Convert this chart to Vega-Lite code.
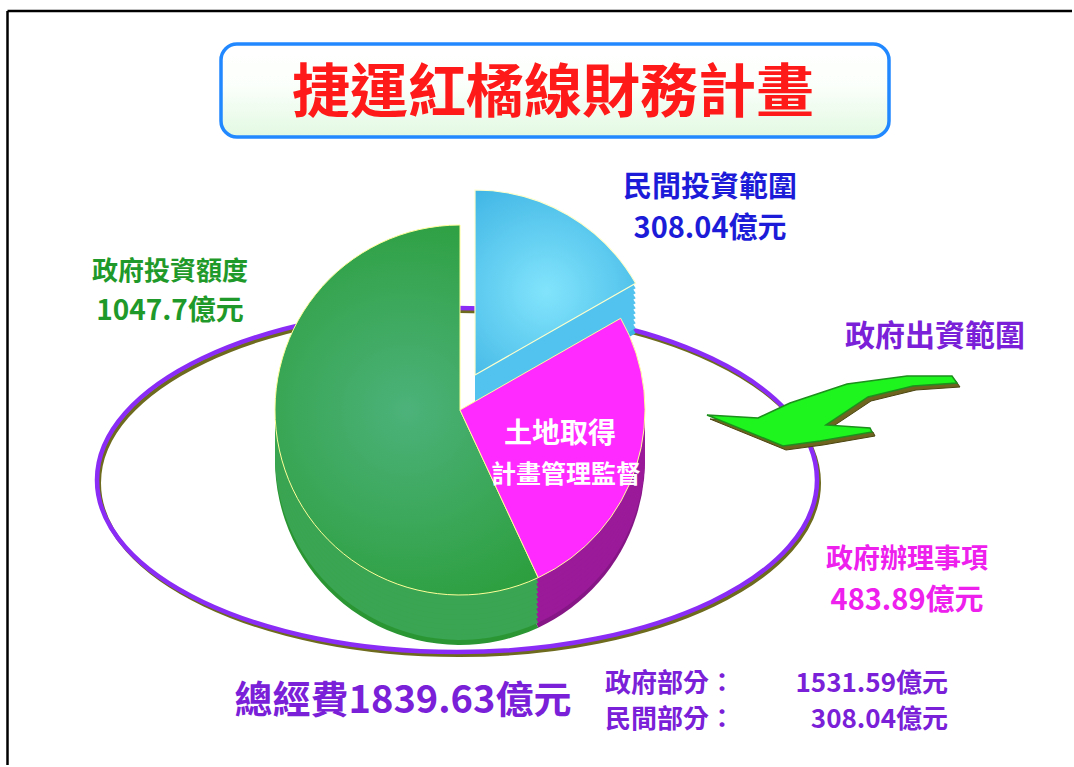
{
  "$schema": "https://vega.github.io/schema/vega-lite/v6.json",
  "width": 1074,
  "height": 767,
  "padding": 0,
  "autosize": {"type": "fit", "contains": "padding"},
  "background": "white",
  "config": {"view": {"stroke": null}, "text": {"font": "Noto Sans CJK TC"}},
  "datasets": {
    "slices": [
      {"key": "blue", "name": "民間投資範圍", "value": 308.04, "ord": 1},
      {"key": "magenta", "name": "政府辦理事項", "value": 483.89, "ord": 2},
      {"key": "green", "name": "政府投資額度", "value": 1047.7, "ord": 3}
    ],
    "notes": [
      {"id": "title", "text": "捷運紅橘線財務計畫"},
      {"id": "arrow", "text": "政府出資範圍"},
      {"id": "inner1", "text": "土地取得"},
      {"id": "inner2", "text": "計畫管理監督"},
      {"id": "total", "text": "總經費1839.63億元"},
      {"id": "gov", "text": "政府部分："},
      {"id": "govv", "text": "1531.59億元"},
      {"id": "pri", "text": "民間部分："},
      {"id": "priv", "text": "308.04億元"}
    ]
  },
  "layer": [
    {
      "data": {"values": [{}]},
      "mark": {"type": "rule", "color": "#000000", "strokeWidth": 2.5},
      "encoding": {
        "x": {"datum": 7.5, "type": "quantitative", "scale": {"domain": [0, 1074], "nice": false, "zero": false}, "axis": null},
        "y": {"datum": 11, "type": "quantitative", "scale": {"domain": [0, 767], "nice": false, "zero": false, "reverse": true}, "axis": null},
        "y2": {"datum": 765}
      }
    },
    {
      "data": {"values": [{}]},
      "mark": {"type": "rule", "color": "#000000", "strokeWidth": 2.5},
      "encoding": {
        "x": {"datum": 7.5, "type": "quantitative", "scale": {"domain": [0, 1074], "nice": false, "zero": false}, "axis": null},
        "x2": {"datum": 1072},
        "y": {"datum": 11, "type": "quantitative", "scale": {"domain": [0, 767], "nice": false, "zero": false, "reverse": true}, "axis": null}
      }
    },
    {
      "data": {"values": [{}]},
      "mark": {
        "type": "rect", "cornerRadius": 16, "stroke": "#2288ff", "strokeWidth": 3.5,
        "fill": {"gradient": "linear", "x1": 0, "y1": 0, "x2": 0, "y2": 1,
          "stops": [{"offset": 0, "color": "#ffffff"}, {"offset": 0.45, "color": "#fbfffb"}, {"offset": 1, "color": "#e2f9e2"}]}
      },
      "encoding": {
        "x": {"datum": 221, "type": "quantitative", "scale": {"domain": [0, 1074], "nice": false, "zero": false}, "axis": null},
        "x2": {"datum": 889},
        "y": {"datum": 44, "type": "quantitative", "scale": {"domain": [0, 767], "nice": false, "zero": false, "reverse": true}, "axis": null},
        "y2": {"datum": 137}
      }
    },
    {
      "data": {"name": "notes"},
      "transform": [{"filter": "datum.id === 'title'"}],
      "mark": {"type": "text", "fontSize": 58, "fontWeight": "bold", "color": "#ff1a1a", "font": "Noto Sans CJK TC"},
      "encoding": {
        "x": {"datum": 553, "type": "quantitative", "scale": {"domain": [0, 1074], "nice": false, "zero": false}, "axis": null},
        "y": {"datum": 95, "type": "quantitative", "scale": {"domain": [0, 767], "nice": false, "zero": false, "reverse": true}, "axis": null},
        "text": {"field": "text"}
      }
    },
    {
      "data": {"values": [{}]},
      "mark": {"type": "point", "shape": "M -1 0 A 1 0.478 0 1 1 1 0 A 1 0.478 0 1 1 -1 0 Z", "size": 518400, "filled": false, "stroke": "#6e6a1e", "strokeWidth": 4, "opacity": 1, "xOffset": 2, "yOffset": 3},
      "encoding": {
        "x": {"datum": 457, "type": "quantitative", "scale": {"domain": [0, 1074], "nice": false, "zero": false}, "axis": null},
        "y": {"datum": 480, "type": "quantitative", "scale": {"domain": [0, 767], "nice": false, "zero": false, "reverse": true}, "axis": null}
      }
    },
    {
      "data": {"values": [{}]},
      "mark": {"type": "point", "shape": "M -1 0 A 1 0.478 0 1 1 1 0 A 1 0.478 0 1 1 -1 0 Z", "size": 518400, "filled": false, "stroke": "#8a2cf5", "strokeWidth": 4.5, "opacity": 1},
      "encoding": {
        "x": {"datum": 457, "type": "quantitative", "scale": {"domain": [0, 1074], "nice": false, "zero": false}, "axis": null},
        "y": {"datum": 480, "type": "quantitative", "scale": {"domain": [0, 767], "nice": false, "zero": false, "reverse": true}, "axis": null}
      }
    },
    {
      "data": {"name": "slices"},
      "transform": [{"stack": "value", "groupby": [], "sort": [{"field": "ord", "order": "ascending"}], "as": ["t0", "t1"]}],
      "encoding": {
        "x": {"datum": 460, "type": "quantitative", "scale": {"domain": [0, 1074], "nice": false, "zero": false}, "axis": null},
        "y": {"datum": 410, "type": "quantitative", "scale": {"domain": [0, 767], "nice": false, "zero": false, "reverse": true}, "axis": null},
        "theta": {"field": "t0", "type": "quantitative", "scale": {"domain": [0, 1839.63]}},
        "theta2": {"field": "t1"}
      },
      "layer": [
        {"transform": [{"filter": "datum.key === 'blue'"}], "mark": {"type": "arc", "radius": 185, "xOffset": 15, "yOffset": 15, "color": "#3cb4e4"}},
        {"transform": [{"filter": "datum.key === 'blue'"}], "mark": {"type": "arc", "radius": 185, "xOffset": 15, "yOffset": 10, "color": "#52c3ee"}},
        {"transform": [{"filter": "datum.key === 'blue'"}], "mark": {"type": "arc", "radius": 185, "xOffset": 15, "yOffset": 5, "color": "#52c3ee"}},
        {"transform": [{"filter": "datum.key === 'blue'"}], "mark": {"type": "arc", "radius": 185, "xOffset": 15, "yOffset": 0, "color": "#52c3ee"}},
        {"transform": [{"filter": "datum.key === 'blue'"}], "mark": {"type": "arc", "radius": 185, "xOffset": 15, "yOffset": -5, "color": "#52c3ee"}},
        {"transform": [{"filter": "datum.key === 'blue'"}], "mark": {"type": "arc", "radius": 185, "xOffset": 15, "yOffset": -10, "color": "#52c3ee"}},
        {"transform": [{"filter": "datum.key === 'blue'"}], "mark": {"type": "arc", "radius": 185, "xOffset": 15, "yOffset": -15, "color": "#52c3ee"}},
        {"transform": [{"filter": "datum.key === 'blue'"}], "mark": {"type": "arc", "radius": 185, "xOffset": 15, "yOffset": -20, "color": "#52c3ee"}},
        {"transform": [{"filter": "datum.key === 'blue'"}], "mark": {"type": "arc", "radius": 185, "xOffset": 15, "yOffset": -25, "color": "#52c3ee"}},
        {"transform": [{"filter": "datum.key === 'blue'"}], "mark": {"type": "arc", "radius": 185, "xOffset": 15, "yOffset": -30, "color": "#52c3ee"}},
        {"transform": [{"filter": "datum.key === 'blue'"}], "mark": {"type": "arc", "radius": 185, "xOffset": 15, "yOffset": -35, "stroke": "#ffffcc", "strokeWidth": 1.2,
          "fill": {"gradient": "radial", "x1": 0.45, "y1": 0.55, "r1": 0, "x2": 0.45, "y2": 0.55, "r2": 0.75,
            "stops": [{"offset": 0, "color": "#82e4fc"}, {"offset": 1, "color": "#38b0e2"}]}}},
        {"transform": [{"filter": "datum.key !== 'blue'"}], "mark": {"type": "arc", "radius": 185, "yOffset": 50}, "encoding": {"color": {"condition": {"test": "datum.key === 'green'", "value": "#2a9633"}, "value": "#861586"}}},
        {"transform": [{"filter": "datum.key !== 'blue'"}], "mark": {"type": "arc", "radius": 185, "yOffset": 45}, "encoding": {"color": {"condition": {"test": "datum.key === 'green'", "value": "#3aa552"}, "value": "#9a1a9a"}}},
        {"transform": [{"filter": "datum.key !== 'blue'"}], "mark": {"type": "arc", "radius": 185, "yOffset": 40}, "encoding": {"color": {"condition": {"test": "datum.key === 'green'", "value": "#3aa552"}, "value": "#9a1a9a"}}},
        {"transform": [{"filter": "datum.key !== 'blue'"}], "mark": {"type": "arc", "radius": 185, "yOffset": 35}, "encoding": {"color": {"condition": {"test": "datum.key === 'green'", "value": "#3aa552"}, "value": "#9a1a9a"}}},
        {"transform": [{"filter": "datum.key !== 'blue'"}], "mark": {"type": "arc", "radius": 185, "yOffset": 30}, "encoding": {"color": {"condition": {"test": "datum.key === 'green'", "value": "#3aa552"}, "value": "#9a1a9a"}}},
        {"transform": [{"filter": "datum.key !== 'blue'"}], "mark": {"type": "arc", "radius": 185, "yOffset": 25}, "encoding": {"color": {"condition": {"test": "datum.key === 'green'", "value": "#3aa552"}, "value": "#9a1a9a"}}},
        {"transform": [{"filter": "datum.key !== 'blue'"}], "mark": {"type": "arc", "radius": 185, "yOffset": 20}, "encoding": {"color": {"condition": {"test": "datum.key === 'green'", "value": "#3aa552"}, "value": "#9a1a9a"}}},
        {"transform": [{"filter": "datum.key !== 'blue'"}], "mark": {"type": "arc", "radius": 185, "yOffset": 15}, "encoding": {"color": {"condition": {"test": "datum.key === 'green'", "value": "#3aa552"}, "value": "#9a1a9a"}}},
        {"transform": [{"filter": "datum.key !== 'blue'"}], "mark": {"type": "arc", "radius": 185, "yOffset": 10}, "encoding": {"color": {"condition": {"test": "datum.key === 'green'", "value": "#3aa552"}, "value": "#9a1a9a"}}},
        {"transform": [{"filter": "datum.key !== 'blue'"}], "mark": {"type": "arc", "radius": 185, "yOffset": 5}, "encoding": {"color": {"condition": {"test": "datum.key === 'green'", "value": "#3aa552"}, "value": "#9a1a9a"}}},
        {"transform": [{"filter": "datum.key === 'green'"}], "mark": {"type": "arc", "radius": 185, "stroke": "#ffff99", "strokeWidth": 1,
          "fill": {"gradient": "radial", "x1": 0.5, "y1": 0.5, "r1": 0, "x2": 0.5, "y2": 0.5, "r2": 0.7,
            "stops": [{"offset": 0, "color": "#4cb27a"}, {"offset": 1, "color": "#259a30"}]}}},
        {"transform": [{"filter": "datum.key === 'magenta'"}], "mark": {"type": "arc", "radius": 185, "stroke": "#ffff99", "strokeWidth": 1, "color": "#ff2aff"}}
      ]
    },
    {
      "data": {"values": [{}]},
      "mark": {"type": "point", "shape": "M -0.984 0.04 L -0.576 0.064 L -0.32 -0.056 L 0.136 -0.208 L 0.616 -0.272 L 0.976 -0.272 L 1.016 -0.216 L 0.664 -0.192 L 0.304 -0.104 L -0.032 0.12 L 0.32 0.144 L 0.336 0.176 L -0.08 0.248 L -0.376 0.288 Z", "size": 62500, "filled": true, "fill": "#6e6420", "stroke": "#4a4410", "strokeWidth": 1, "opacity": 1, "xOffset": 3, "yOffset": 4},
      "encoding": {
        "x": {"datum": 830, "type": "quantitative", "scale": {"domain": [0, 1074], "nice": false, "zero": false}, "axis": null},
        "y": {"datum": 410, "type": "quantitative", "scale": {"domain": [0, 767], "nice": false, "zero": false, "reverse": true}, "axis": null}
      }
    },
    {
      "data": {"values": [{}]},
      "mark": {"type": "point", "shape": "M -0.984 0.04 L -0.576 0.064 L -0.32 -0.056 L 0.136 -0.208 L 0.616 -0.272 L 0.976 -0.272 L 1.016 -0.216 L 0.664 -0.192 L 0.304 -0.104 L -0.032 0.12 L 0.32 0.144 L 0.336 0.176 L -0.08 0.248 L -0.376 0.288 Z", "size": 62500, "filled": true, "fill": "#1ef51e", "stroke": "#1c8f1c", "strokeWidth": 1.5, "opacity": 1},
      "encoding": {
        "x": {"datum": 830, "type": "quantitative", "scale": {"domain": [0, 1074], "nice": false, "zero": false}, "axis": null},
        "y": {"datum": 410, "type": "quantitative", "scale": {"domain": [0, 767], "nice": false, "zero": false, "reverse": true}, "axis": null}
      }
    },
    {
      "data": {"name": "slices"},
      "transform": [{"filter": "datum.key === 'blue'"}, {"calculate": "datum.value + '億元'", "as": "amt"}],
      "encoding": {"x": {"datum": 710, "type": "quantitative", "scale": {"domain": [0, 1074], "nice": false, "zero": false}, "axis": null}},
      "layer": [
        {"mark": {"type": "text", "fontSize": 29, "fontWeight": "bold", "color": "#1c1cd8", "font": "Noto Sans CJK TC"},
         "encoding": {"y": {"datum": 188, "type": "quantitative", "scale": {"domain": [0, 767], "nice": false, "zero": false, "reverse": true}, "axis": null}, "text": {"field": "name"}}},
        {"mark": {"type": "text", "fontSize": 29, "fontWeight": "bold", "color": "#1c1cd8", "font": "Noto Sans CJK TC"},
         "encoding": {"y": {"datum": 229, "type": "quantitative", "scale": {"domain": [0, 767], "nice": false, "zero": false, "reverse": true}, "axis": null}, "text": {"field": "amt"}}}
      ]
    },
    {
      "data": {"name": "slices"},
      "transform": [{"filter": "datum.key === 'green'"}, {"calculate": "datum.value + '億元'", "as": "amt"}],
      "encoding": {"x": {"datum": 170, "type": "quantitative", "scale": {"domain": [0, 1074], "nice": false, "zero": false}, "axis": null}},
      "layer": [
        {"mark": {"type": "text", "fontSize": 26, "fontWeight": "bold", "color": "#1f9a2a", "font": "Noto Sans CJK TC"},
         "encoding": {"y": {"datum": 272, "type": "quantitative", "scale": {"domain": [0, 767], "nice": false, "zero": false, "reverse": true}, "axis": null}, "text": {"field": "name"}}},
        {"mark": {"type": "text", "fontSize": 28, "fontWeight": "bold", "color": "#1f9a2a", "font": "Noto Sans CJK TC"},
         "encoding": {"y": {"datum": 312, "type": "quantitative", "scale": {"domain": [0, 767], "nice": false, "zero": false, "reverse": true}, "axis": null}, "text": {"field": "amt"}}}
      ]
    },
    {
      "data": {"name": "slices"},
      "transform": [{"filter": "datum.key === 'magenta'"}, {"calculate": "datum.value + '億元'", "as": "amt"}],
      "encoding": {"x": {"datum": 907, "type": "quantitative", "scale": {"domain": [0, 1074], "nice": false, "zero": false}, "axis": null}},
      "layer": [
        {"mark": {"type": "text", "fontSize": 27, "fontWeight": "bold", "color": "#ee20ee", "font": "Noto Sans CJK TC"},
         "encoding": {"y": {"datum": 560, "type": "quantitative", "scale": {"domain": [0, 767], "nice": false, "zero": false, "reverse": true}, "axis": null}, "text": {"field": "name"}}},
        {"mark": {"type": "text", "fontSize": 29, "fontWeight": "bold", "color": "#ee20ee", "font": "Noto Sans CJK TC"},
         "encoding": {"y": {"datum": 601, "type": "quantitative", "scale": {"domain": [0, 767], "nice": false, "zero": false, "reverse": true}, "axis": null}, "text": {"field": "amt"}}}
      ]
    },
    {
      "data": {"name": "notes"},
      "transform": [{"filter": "datum.id === 'arrow'"}],
      "mark": {"type": "text", "fontSize": 30, "fontWeight": "bold", "color": "#7a20d8", "font": "Noto Sans CJK TC"},
      "encoding": {
        "x": {"datum": 935, "type": "quantitative", "scale": {"domain": [0, 1074], "nice": false, "zero": false}, "axis": null},
        "y": {"datum": 337, "type": "quantitative", "scale": {"domain": [0, 767], "nice": false, "zero": false, "reverse": true}, "axis": null},
        "text": {"field": "text"}
      }
    },
    {
      "data": {"name": "notes"},
      "transform": [{"filter": "datum.id === 'inner1'"}],
      "mark": {"type": "text", "fontSize": 28, "fontWeight": "bold", "color": "#ffffff", "font": "Noto Sans CJK TC"},
      "encoding": {
        "x": {"datum": 560, "type": "quantitative", "scale": {"domain": [0, 1074], "nice": false, "zero": false}, "axis": null},
        "y": {"datum": 435, "type": "quantitative", "scale": {"domain": [0, 767], "nice": false, "zero": false, "reverse": true}, "axis": null},
        "text": {"field": "text"}
      }
    },
    {
      "data": {"name": "notes"},
      "transform": [{"filter": "datum.id === 'inner2'"}],
      "mark": {"type": "text", "fontSize": 25, "fontWeight": "bold", "color": "#ffffff", "font": "Noto Sans CJK TC"},
      "encoding": {
        "x": {"datum": 566, "type": "quantitative", "scale": {"domain": [0, 1074], "nice": false, "zero": false}, "axis": null},
        "y": {"datum": 475, "type": "quantitative", "scale": {"domain": [0, 767], "nice": false, "zero": false, "reverse": true}, "axis": null},
        "text": {"field": "text"}
      }
    },
    {
      "data": {"name": "notes"},
      "transform": [{"filter": "datum.id === 'total'"}],
      "mark": {"type": "text", "fontSize": 38, "fontWeight": "bold", "color": "#7a20d8", "font": "Noto Sans CJK TC"},
      "encoding": {
        "x": {"datum": 403, "type": "quantitative", "scale": {"domain": [0, 1074], "nice": false, "zero": false}, "axis": null},
        "y": {"datum": 702, "type": "quantitative", "scale": {"domain": [0, 767], "nice": false, "zero": false, "reverse": true}, "axis": null},
        "text": {"field": "text"}
      }
    },
    {
      "data": {"name": "notes"},
      "transform": [{"filter": "datum.id === 'gov'"}],
      "mark": {"type": "text", "fontSize": 26, "fontWeight": "bold", "color": "#7a20d8", "font": "Noto Sans CJK TC", "align": "left"},
      "encoding": {
        "x": {"datum": 605, "type": "quantitative", "scale": {"domain": [0, 1074], "nice": false, "zero": false}, "axis": null},
        "y": {"datum": 684, "type": "quantitative", "scale": {"domain": [0, 767], "nice": false, "zero": false, "reverse": true}, "axis": null},
        "text": {"field": "text"}
      }
    },
    {
      "data": {"name": "notes"},
      "transform": [{"filter": "datum.id === 'govv'"}],
      "mark": {"type": "text", "fontSize": 26, "fontWeight": "bold", "color": "#7a20d8", "font": "Noto Sans CJK TC", "align": "right"},
      "encoding": {
        "x": {"datum": 948, "type": "quantitative", "scale": {"domain": [0, 1074], "nice": false, "zero": false}, "axis": null},
        "y": {"datum": 684, "type": "quantitative", "scale": {"domain": [0, 767], "nice": false, "zero": false, "reverse": true}, "axis": null},
        "text": {"field": "text"}
      }
    },
    {
      "data": {"name": "notes"},
      "transform": [{"filter": "datum.id === 'pri'"}],
      "mark": {"type": "text", "fontSize": 26, "fontWeight": "bold", "color": "#7a20d8", "font": "Noto Sans CJK TC", "align": "left"},
      "encoding": {
        "x": {"datum": 605, "type": "quantitative", "scale": {"domain": [0, 1074], "nice": false, "zero": false}, "axis": null},
        "y": {"datum": 720, "type": "quantitative", "scale": {"domain": [0, 767], "nice": false, "zero": false, "reverse": true}, "axis": null},
        "text": {"field": "text"}
      }
    },
    {
      "data": {"name": "notes"},
      "transform": [{"filter": "datum.id === 'priv'"}],
      "mark": {"type": "text", "fontSize": 26, "fontWeight": "bold", "color": "#7a20d8", "font": "Noto Sans CJK TC", "align": "right"},
      "encoding": {
        "x": {"datum": 948, "type": "quantitative", "scale": {"domain": [0, 1074], "nice": false, "zero": false}, "axis": null},
        "y": {"datum": 720, "type": "quantitative", "scale": {"domain": [0, 767], "nice": false, "zero": false, "reverse": true}, "axis": null},
        "text": {"field": "text"}
      }
    }
  ]
}
